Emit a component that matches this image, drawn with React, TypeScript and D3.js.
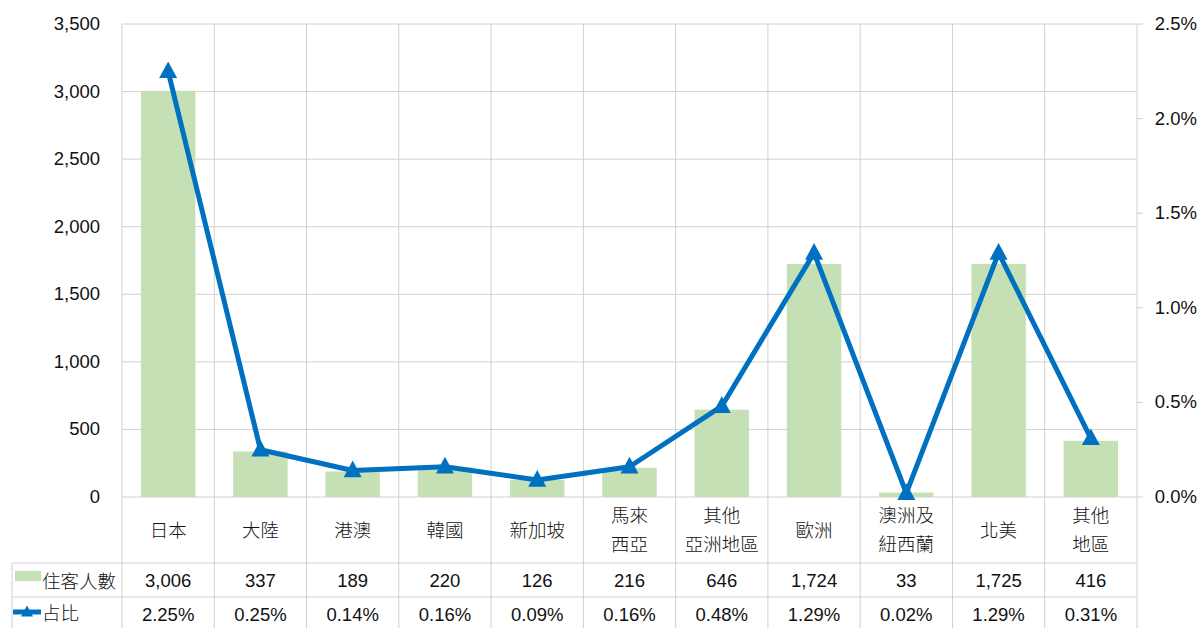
import * as d3 from 'd3';
import React from 'react';

const categories = ['日本', '大陸', '港澳', '韓國', '新加坡', '馬來\n西亞', '其他\n亞洲地區', '歐洲', '澳洲及\n紐西蘭', '北美', '其他\n地區'];
const guests = [3006, 337, 189, 220, 126, 216, 646, 1724, 33, 1725, 416];
const share = [2.25, 0.25, 0.14, 0.16, 0.09, 0.16, 0.48, 1.29, 0.02, 1.29, 0.31];
const leftTicks = [0, 500, 1000, 1500, 2000, 2500, 3000, 3500];
const rightTicks = [0, 0.5, 1.0, 1.5, 2.0, 2.5];
const seriesNames = ['住客人數', '占比'];

const W = 1201, H = 628;
const left = 122, right = 1137, top = 24, bottom = 497;
const row1 = 563, row2 = 597, tableLeft = 12;
const FONT = 'Liberation Sans, Arial, "Noto Sans CJK TC", sans-serif';
const CJK = '"Noto Sans CJK TC", sans-serif';
const FS = 18.5;

export default function App() {
  const x = d3.scaleBand<number>().domain(d3.range(categories.length)).range([left, right]);
  const yL = d3.scaleLinear().domain([0, 3500]).range([bottom, top]);
  const yR = d3.scaleLinear().domain([0, 2.5]).range([bottom, top]);
  const barW = x.bandwidth() * 0.59;
  const cx = (i: number) => (x(i) as number) + x.bandwidth() / 2;
  const line = d3.line<number>().x((_, i) => cx(i)).y(d => yR(d));
  const grid = '#d0d0d0';
  const blue = '#0070c0';
  const green = '#c5e0b4';
  const tri = (px: number, py: number, s = 9) => `M${px},${py - s * 1.1} L${px + s},${py + s * 0.75} L${px - s},${py + s * 0.75} Z`;

  return (
    <svg width={W} height={H} style={{ position: 'absolute', left: 0, top: 0, background: '#fff' }}>
      {/* horizontal grid */}
      {leftTicks.map(t => (
        <line key={t} x1={left} x2={right} y1={yL(t)} y2={yL(t)} stroke={grid} strokeWidth={1} />
      ))}
      {/* vertical grid through table */}
      {d3.range(categories.length + 1).map(i => {
        const xx = i === categories.length ? right : (x(i) as number);
        return <line key={i} x1={xx} x2={xx} y1={top} y2={H} stroke={grid} strokeWidth={1} />;
      })}
      {/* table rows */}
      <line x1={tableLeft} x2={right} y1={row1} y2={row1} stroke={grid} />
      <line x1={tableLeft} x2={right} y1={row2} y2={row2} stroke={grid} />
      <line x1={tableLeft} x2={tableLeft} y1={row1} y2={H} stroke={grid} />
      {/* right ticks */}
      {rightTicks.map(t => (
        <line key={t} x1={right} x2={right + 6} y1={yR(t)} y2={yR(t)} stroke={grid} />
      ))}
      {/* bars */}
      {guests.map((g, i) => (
        <rect key={i} x={cx(i) - barW / 2} y={yL(g)} width={barW} height={bottom - yL(g)} fill={green} />
      ))}
      {/* line */}
      <path d={line(share) as string} fill="none" stroke={blue} strokeWidth={5} strokeLinejoin="round" />
      {share.map((s, i) => (
        <path key={i} d={tri(cx(i), yR(s))} fill={blue} />
      ))}
      {/* left axis labels */}
      {leftTicks.map(t => (
        <text key={t} x={100} y={yL(t) + 6} textAnchor="end" fontSize={FS} fontFamily={FONT} fill="#111">
          {d3.format(',')(t)}
        </text>
      ))}
      {/* right axis labels */}
      {rightTicks.map(t => (
        <text key={t} x={1197} y={yR(t) + 6} textAnchor="end" fontSize={FS} fontFamily={FONT} fill="#111">
          {d3.format('.1f')(t) + '%'}
        </text>
      ))}
      {/* category labels */}
      {categories.map((c, i) => {
        const lines = c.split('\n');
        const y0 = lines.length === 1 ? 537 : 522;
        return (
          <text key={i} x={cx(i)} y={y0} textAnchor="middle" fontSize={FS} fontFamily={CJK} fontWeight={300} fill="#111">
            {lines.map((l, j) => (
              <tspan key={j} x={cx(i)} dy={j === 0 ? 0 : 29}>{l}</tspan>
            ))}
          </text>
        );
      })}
      {/* data table values */}
      {guests.map((g, i) => (
        <text key={i} x={cx(i)} y={587} textAnchor="middle" fontSize={FS} fontFamily={FONT} fill="#111">
          {d3.format(',')(g)}
        </text>
      ))}
      {share.map((s, i) => (
        <text key={i} x={cx(i)} y={621} textAnchor="middle" fontSize={FS} fontFamily={FONT} fill="#111">
          {d3.format('.2f')(s) + '%'}
        </text>
      ))}
      {/* legend keys */}
      <rect x={15} y={571} width={26} height={10} fill={green} />
      <text x={42} y={588} fontSize={FS} fontFamily={CJK} fontWeight={300} fill="#111">{seriesNames[0]}</text>
      <line x1={13} x2={41} y1={612} y2={612} stroke={blue} strokeWidth={5} />
      <path d={tri(27, 612, 6)} fill={blue} />
      <text x={42} y={620} fontSize={FS} fontFamily={CJK} fontWeight={300} fill="#111">{seriesNames[1]}</text>
    </svg>
  );
}
